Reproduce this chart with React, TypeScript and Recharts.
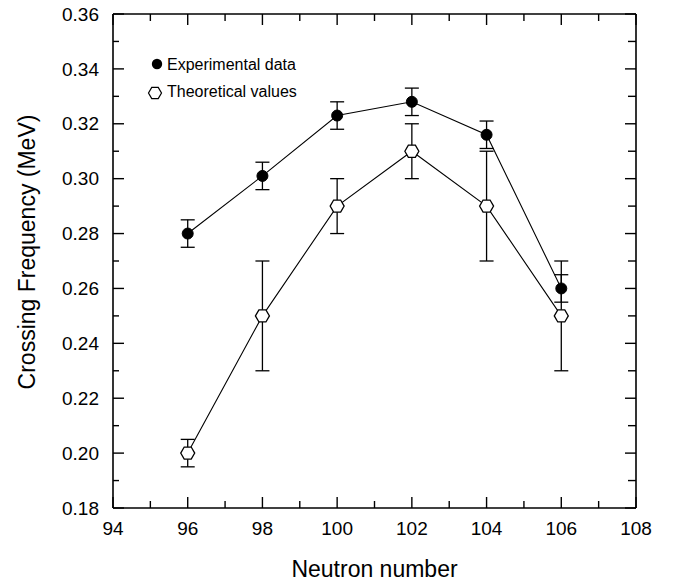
import React from 'react';
import { ComposedChart, Line, XAxis, YAxis, ErrorBar, Legend } from 'recharts';

const neutronNumbers = [96, 98, 100, 102, 104, 106];
const experimental = [0.28, 0.301, 0.323, 0.328, 0.316, 0.26];
const experimentalErr = [0.005, 0.005, 0.005, 0.005, 0.005, 0.005];
const theoretical = [0.2, 0.25, 0.29, 0.31, 0.29, 0.25];
const theoreticalErr = [0.005, 0.02, 0.01, 0.01, 0.02, 0.02];

const xTicks = [94, 95, 96, 97, 98, 99, 100, 101, 102, 103, 104, 105, 106, 107, 108];
const yTicks = [0.18, 0.19, 0.2, 0.21, 0.22, 0.23, 0.24, 0.25, 0.26, 0.27, 0.28, 0.29, 0.3, 0.31, 0.32, 0.33, 0.34, 0.35, 0.36];

const seriesNames = ['Experimental data', 'Theoretical values'];
const xTitle = 'Neutron number';
const yTitle = 'Crossing Frequency (MeV)';

const data = neutronNumbers.map((n, i) => ({
  n,
  exp: experimental[i],
  expErr: experimentalErr[i],
  theo: theoretical[i],
  theoErr: theoreticalErr[i],
}));

const FONT = '"Liberation Sans", Arial, Helvetica, sans-serif';

const isMajorX = (v: number) => Math.round(v) % 2 === 0;
const isMajorY = (v: number) => Math.round(v * 100) % 2 === 0;

const hexPoints = (cx: number, cy: number, r: number) => {
  const h = r * 0.866;
  return [
    [cx - r, cy],
    [cx - r / 2, cy - h],
    [cx + r / 2, cy - h],
    [cx + r, cy],
    [cx + r / 2, cy + h],
    [cx - r / 2, cy + h],
  ]
    .map((p) => p.join(','))
    .join(' ');
};

const BottomTick = (props: any) => {
  const { x, y, payload } = props;
  const v = payload.value;
  const major = isMajorX(v);
  return (
    <g>
      <line x1={x} x2={x} y1={y} y2={y - (major ? 11 : 7)} stroke="#000" strokeWidth={1.4} />
      {major && (
        <text x={x} y={y + 27} textAnchor="middle" fontSize={19} fontFamily={FONT} fill="#000">
          {v}
        </text>
      )}
    </g>
  );
};

const TopTick = (props: any) => {
  const { x, y, payload } = props;
  const major = isMajorX(payload.value);
  return <line x1={x} x2={x} y1={y} y2={y + (major ? 11 : 7)} stroke="#000" strokeWidth={1.4} />;
};

const LeftTick = (props: any) => {
  const { x, y, payload } = props;
  const v = payload.value;
  const major = isMajorY(v);
  return (
    <g>
      <line x1={x} x2={x + (major ? 11 : 6)} y1={y} y2={y} stroke="#000" strokeWidth={1.4} />
      {major && (
        <text x={x - 14} y={y} dy="0.35em" textAnchor="end" fontSize={19} fontFamily={FONT} fill="#000">
          {v.toFixed(2)}
        </text>
      )}
    </g>
  );
};

const RightTick = (props: any) => {
  const { x, y, payload } = props;
  const major = isMajorY(payload.value);
  return <line x1={x} x2={x - (major ? 11 : 8)} y1={y} y2={y} stroke="#000" strokeWidth={1.4} />;
};

const HexDot = (props: any) => {
  const { cx, cy, index } = props;
  if (cx == null || cy == null) return <g key={`hx-${index}`} />;
  return (
    <polygon
      key={`hx-${index}`}
      points={hexPoints(cx, cy, 7)}
      fill="#fff"
      stroke="#000"
      strokeWidth={1.3}
    />
  );
};

const LegendContent = () => (
  <svg width={220} height={60} style={{ display: 'block', overflow: 'visible' }}>
    <circle cx={9} cy={16} r={5.2} fill="#000" />
    <text x={19} y={22} fontSize={16} fontFamily={FONT} fill="#000">
      {seriesNames[0]}
    </text>
    <polygon points={hexPoints(7, 45, 6.5)} fill="#fff" stroke="#000" strokeWidth={1.2} />
    <text x={19} y={49} fontSize={16} fontFamily={FONT} fill="#000">
      {seriesNames[1]}
    </text>
  </svg>
);

const XTitle = (props: any) => {
  const vb = props.viewBox || {};
  return (
    <text
      x={vb.x + vb.width / 2}
      y={vb.y + 69}
      textAnchor="middle"
      fontSize={23}
      fontFamily={FONT}
      fill="#000"
    >
      {xTitle}
    </text>
  );
};

const YTitle = (props: any) => {
  const vb = props.viewBox || {};
  const tx = vb.x + vb.width - 78;
  const ty = vb.y + vb.height / 2 - 9;
  return (
    <text
      x={tx}
      y={ty}
      transform={`rotate(-90, ${tx}, ${ty})`}
      textAnchor="middle"
      fontSize={23}
      fontFamily={FONT}
      fill="#000"
    >
      {yTitle}
    </text>
  );
};

export default function App() {
  return (
    <div style={{ width: 673, height: 586, margin: '-8px 0 -8px -8px', fontFamily: FONT }}>
      <ComposedChart
        width={673}
        height={586}
        data={data}
        margin={{ top: 8, right: 27, bottom: 0, left: 53 }}
      >
        <XAxis
          xAxisId="bottom"
          dataKey="n"
          type="number"
          domain={[94, 108]}
          ticks={xTicks}
          interval={0}
          height={78}
          tickSize={0}
          tickMargin={0}
          tickLine={false}
          axisLine={{ stroke: '#000', strokeWidth: 1.6 }}
          tick={<BottomTick />}
          allowDataOverflow
          label={<XTitle />}
        />
        <XAxis
          xAxisId="top"
          orientation="top"
          dataKey="n"
          type="number"
          domain={[94, 108]}
          ticks={xTicks}
          interval={0}
          height={6}
          tickSize={0}
          tickMargin={0}
          tickLine={false}
          axisLine={{ stroke: '#000', strokeWidth: 1.6 }}
          tick={<TopTick />}
          allowDataOverflow
        />
        <YAxis
          yAxisId="left"
          type="number"
          domain={[0.18, 0.36]}
          ticks={yTicks}
          interval={0}
          width={60}
          tickSize={0}
          tickMargin={0}
          tickLine={false}
          axisLine={{ stroke: '#000', strokeWidth: 1.6 }}
          tick={<LeftTick />}
          allowDataOverflow
          label={<YTitle />}
        />
        <YAxis
          yAxisId="right"
          orientation="right"
          type="number"
          domain={[0.18, 0.36]}
          ticks={yTicks}
          interval={0}
          width={10}
          tickSize={0}
          tickMargin={0}
          tickLine={false}
          axisLine={{ stroke: '#000', strokeWidth: 1.6 }}
          tick={<RightTick />}
          allowDataOverflow
        />
        <Legend
          layout="vertical"
          align="center"
          verticalAlign="middle"
          content={<LegendContent />}
          wrapperStyle={{ left: 148, top: 48, width: 220, height: 60 }}
        />
        <Line
          xAxisId="bottom"
          yAxisId="left"
          dataKey="theo"
          name={seriesNames[1]}
          stroke="#000"
          strokeWidth={1.1}
          dot={HexDot}
          activeDot={false}
          isAnimationActive={false}
        >
          <ErrorBar dataKey="theoErr" width={7} stroke="#000" strokeWidth={1.3} isAnimationActive={false} />
        </Line>
        <Line
          xAxisId="bottom"
          yAxisId="left"
          dataKey="exp"
          name={seriesNames[0]}
          stroke="#000"
          strokeWidth={1.1}
          dot={{ r: 5.5, fill: '#000', stroke: '#000', strokeWidth: 1 }}
          activeDot={false}
          isAnimationActive={false}
        >
          <ErrorBar dataKey="expErr" width={7} stroke="#000" strokeWidth={1.3} isAnimationActive={false} />
        </Line>
      </ComposedChart>
    </div>
  );
}
